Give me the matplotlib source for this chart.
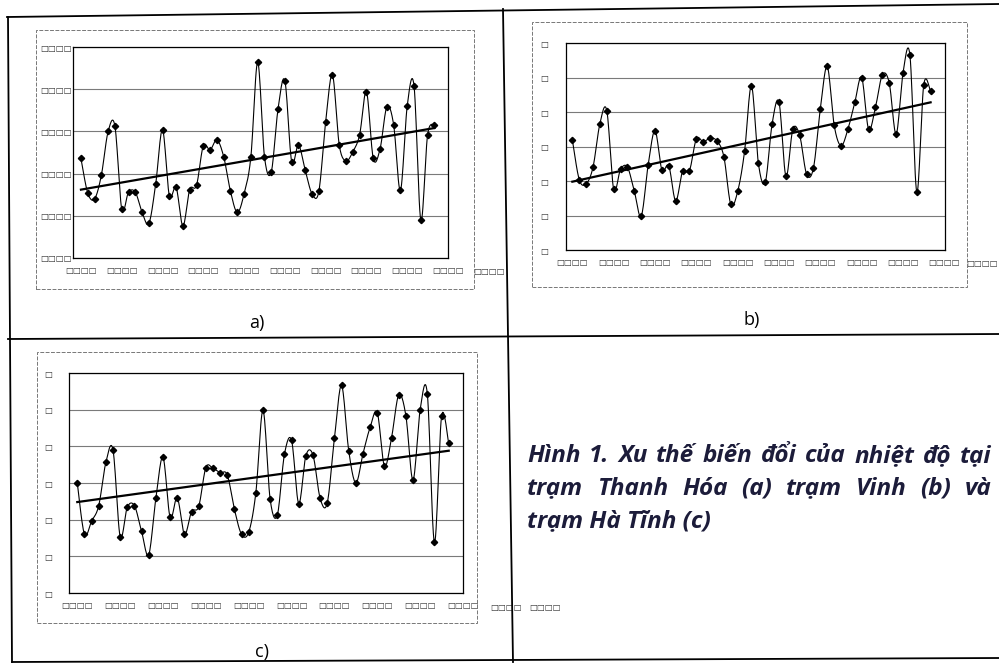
import numpy as np
import matplotlib.pyplot as plt
from matplotlib.lines import Line2D
from matplotlib.patches import Rectangle

W, H = 999, 667

# Nam quan trac (chi so 0..52)
years = list(range(1961, 2014))

# (a) Thanh Hoa
temp_a = [23.68, 23.27, 23.20, 23.48, 24.00, 24.06, 23.08, 23.28, 23.28, 23.04,
          22.91, 23.38, 24.02, 23.24, 23.34, 22.88, 23.31, 23.36, 23.83, 23.78,
          23.90, 23.70, 23.29, 23.04, 23.26, 23.70, 24.82, 23.70, 23.52, 24.27,
          24.60, 23.64, 23.84, 23.54, 23.26, 23.29, 24.11, 24.67, 23.84, 23.65,
          23.76, 23.96, 24.47, 23.68, 23.79, 24.29, 24.08, 23.30, 24.30, 24.54,
          22.95, 23.96, 24.08]
trend_a = [23.31, 24.04]
# (b) Vinh
temp_b = [24.60, 24.02, 23.96, 24.20, 24.83, 25.02, 23.88, 24.17, 24.20, 23.85,
          23.49, 24.23, 24.73, 24.16, 24.22, 23.71, 24.14, 24.15, 24.61, 24.57,
          24.62, 24.58, 24.35, 23.66, 23.85, 24.43, 25.38, 24.26, 23.98, 24.83,
          25.14, 24.07, 24.75, 24.66, 24.10, 24.19, 25.05, 25.66, 24.81, 24.51,
          24.75, 25.14, 25.50, 24.75, 25.07, 25.54, 25.42, 24.68, 25.57, 25.82,
          23.84, 25.39, 25.30]
trend_b = [23.99, 25.14]
# (c) Ha Tinh
temp_c = [24.50, 23.80, 23.98, 24.19, 24.78, 24.95, 23.77, 24.17, 24.19, 23.84,
          23.52, 24.29, 24.85, 24.03, 24.30, 23.80, 24.11, 24.18, 24.71, 24.70,
          24.64, 24.61, 24.14, 23.80, 23.83, 24.37, 25.49, 24.28, 24.06, 24.89,
          25.08, 24.22, 24.87, 24.88, 24.29, 24.23, 25.11, 25.83, 24.94, 24.50,
          24.90, 25.26, 25.46, 24.73, 25.12, 25.70, 25.42, 24.54, 25.50, 25.72,
          23.69, 25.41, 25.04]
trend_c = [24.24, 24.94]

yticks_a = [22.5, 23.0, 23.5, 24.0, 24.5, 25.0]
yticks_bc = [23.0, 23.5, 24.0, 24.5, 25.0, 25.5, 26.0]
xtick_idx = [0, 6, 12, 18, 24, 30, 36, 42, 48, 54]

caption_1 = "Hình 1. Xu thế biến đổi của nhiệt độ tại"
caption_2 = "trạm Thanh Hóa (a) trạm Vinh (b) và"
caption_3 = "trạm Hà Tĩnh (c)"


def fx(px):
    return px / W


def fy(py):
    return 1 - py / H


def smooth(x, y, n=14):
    # duong cong kieu "smoothed line" cua Excel (Bezier)
    x = np.asarray(x, float)
    y = np.asarray(y, float)
    N = len(x)
    xs, ys = [], []
    t = np.linspace(0, 1, n)
    for i in range(N - 1):
        p0 = max(i - 1, 0)
        p3 = min(i + 2, N - 1)
        c1x = x[i] + (x[i + 1] - x[p0]) / 6
        c1y = y[i] + (y[i + 1] - y[p0]) / 6
        c2x = x[i + 1] - (x[p3] - x[i]) / 6
        c2y = y[i + 1] - (y[p3] - y[i]) / 6
        bx = (1 - t) ** 3 * x[i] + 3 * (1 - t) ** 2 * t * c1x + 3 * (1 - t) * t ** 2 * c2x + t ** 3 * x[i + 1]
        by = (1 - t) ** 3 * y[i] + 3 * (1 - t) ** 2 * t * c1y + 3 * (1 - t) * t ** 2 * c2y + t ** 3 * y[i + 1]
        xs.extend(bx[:-1])
        ys.extend(by[:-1])
    xs.append(x[-1])
    ys.append(y[-1])
    return xs, ys


def panel(rect, vals, trend, yticks, ylabel, ypad, xlim, extra_x):
    ax = fig.add_axes(rect)
    idx = np.arange(len(vals))
    sx, sy = smooth(idx, vals)
    ax.plot(sx, sy, color='black', lw=0.8)
    ax.plot(idx, vals, ls='none', marker='D', ms=3.2, color='black')
    ax.plot([idx[0], idx[-1]], trend, color='black', lw=1.6)
    ax.set_xlim(*xlim)
    ax.set_ylim(yticks[0], yticks[-1])
    ax.set_yticks(yticks)
    ax.set_yticklabels([ylabel] * len(yticks))
    ax.set_xticks(xtick_idx)
    ax.set_xticklabels(['□□□□'] * len(xtick_idx))
    ax.tick_params(axis='both', labelsize=6, labelcolor='#333333', length=0)
    ax.tick_params(axis='x', pad=6)
    ax.tick_params(axis='y', pad=ypad)
    ax.yaxis.grid(True, color='#7a7a7a', lw=0.8)
    ax.set_axisbelow(True)
    for s in ax.spines.values():
        s.set_linewidth(0.9)
    for ex in extra_x:
        ax.text(ex, -0.045, '□□□□', transform=ax.get_xaxis_transform(), fontsize=6,
                color='#333333', ha='center', va='top', clip_on=False)
    return ax


fig = plt.figure(figsize=(9.99, 6.67), dpi=100)

# cac o cua bang
border = dict(color='black', lw=1.3)
for (x0, y0), (x1, y1) in [((7, 17), (999, 4)), ((8, 17), (12, 662)), ((12, 662), (999, 658)),
                           ((8, 339), (999, 334)), ((503, 9), (513, 662))]:
    fig.add_artist(Line2D([fx(x0), fx(x1)], [fy(y0), fy(y1)], transform=fig.transFigure, **border))

# khung bieu do (chart area)
for (x0, y0, x1, y1) in [(36, 30, 474, 289), (532, 22, 967, 287), (37, 352, 477, 623)]:
    fig.add_artist(Rectangle((fx(x0), fy(y1)), fx(x1) - fx(x0), fy(y0) - fy(y1),
                             transform=fig.transFigure, fill=False, ec='#777777',
                             lw=0.7, ls=(0, (4, 1.5))))

panel([fx(73), fy(258), fx(448) - fx(73), fy(47) - fy(258)], temp_a, trend_a, yticks_a,
      '□□□□', 1, (-1.17, 53.76), [60])
panel([fx(566), fy(250), fx(945) - fx(566), fy(43) - fy(250)], temp_b, trend_b, yticks_bc,
      '□', 13, (-0.92, 54.09), [59.5])
panel([fx(69), fy(593), fx(463) - fx(69), fy(373) - fy(593)], temp_c, trend_c, yticks_bc,
      '□', 12, (-1.16, 53.82), [60, 65.5])

# nhan a), b), c)
for lab, px, py in [('a)', 257, 323), ('b)', 752, 320), ('c)', 262, 652)]:
    fig.text(fx(px), fy(py), lab, fontsize=13, family=['Open Sans', 'DejaVu Sans'],
             ha='center', va='center')

# chu thich, can deu hai ben
cap = dict(fontsize=16, family=['Open Sans', 'DejaVu Sans'], style='italic',
           weight='bold', color='#1c1c3a', va='baseline')
renderer = fig.canvas.get_renderer()
probe = fig.text(0, 0, caption_1, **cap)
w1 = probe.get_window_extent(renderer).width
probe.remove()
cap['fontsize'] = 16 * 445 / w1


def justified(line, x0, x1, py):
    words = line.split(' ')
    arts = [fig.text(0, fy(py), w, **cap) for w in words]
    widths = [a.get_window_extent(renderer).width for a in arts]
    gap = (x1 - x0 - sum(widths)) / (len(words) - 1)
    x = x0
    for a, w in zip(arts, widths):
        a.set_x(fx(x))
        x += w + gap


justified(caption_1, 527, 992, 462)
justified(caption_2, 527, 992, 495)
fig.text(fx(527), fy(527), caption_3, **cap)

fig.savefig('out.png', dpi=100)
